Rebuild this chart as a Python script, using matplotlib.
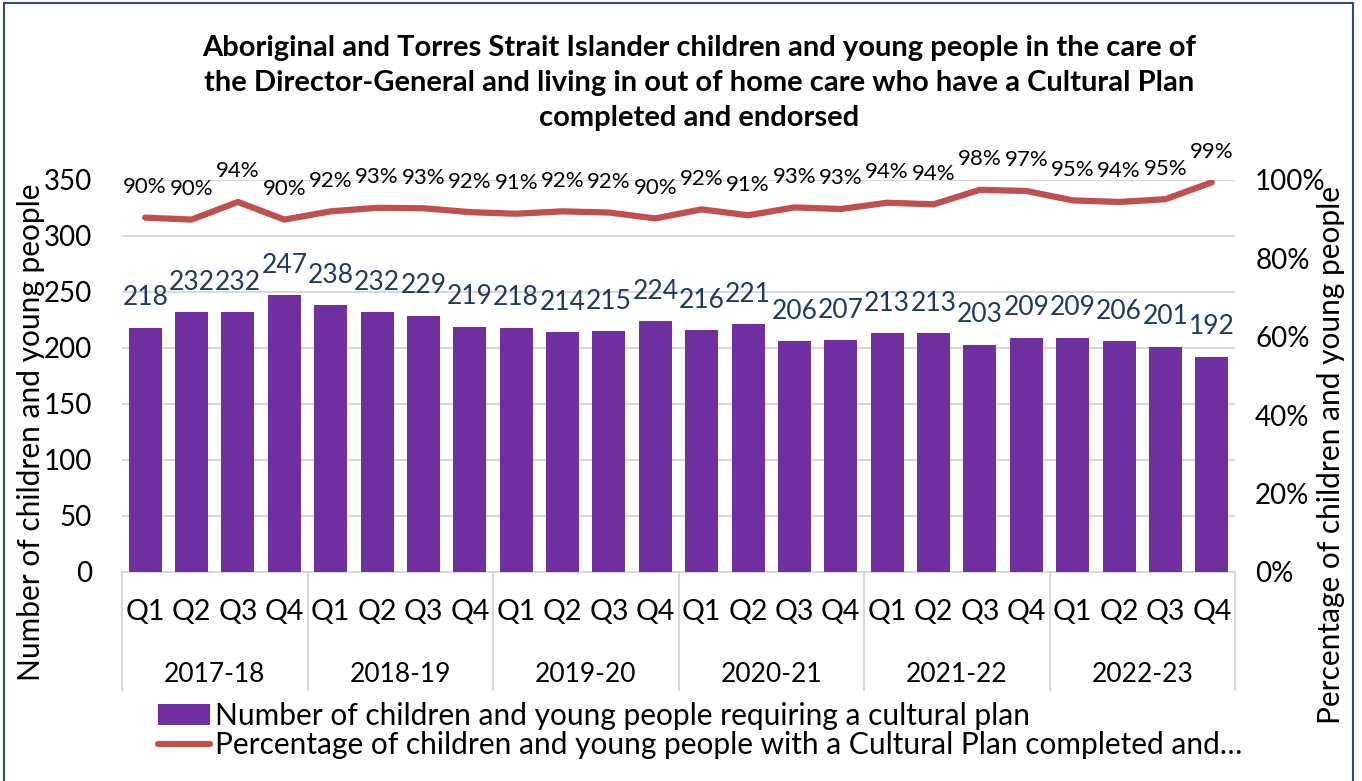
import matplotlib
matplotlib.use("Agg")
import matplotlib.pyplot as plt
from matplotlib.patches import Patch, Rectangle
from matplotlib.lines import Line2D
from matplotlib.transforms import blended_transform_factory

plt.rcParams['font.family'] = ['Lato', 'DejaVu Sans']

years = ["2017-18", "2018-19", "2019-20", "2020-21", "2021-22", "2022-23"]
quarters = ["Q1", "Q2", "Q3", "Q4"]
counts = [218, 232, 232, 247, 238, 232, 229, 219, 218, 214, 215, 224,
          216, 221, 206, 207, 213, 213, 203, 209, 209, 206, 201, 192]
pct = [0.904, 0.899, 0.944, 0.899, 0.920, 0.929, 0.928, 0.918, 0.914, 0.920, 0.917, 0.902,
       0.925, 0.910, 0.930, 0.926, 0.942, 0.938, 0.975, 0.972, 0.948, 0.944, 0.951, 0.994]
bar_label = "Number of children and young people requiring a cultural plan"
line_label = "Percentage of children and young people with a Cultural Plan completed and…"
title = ("Aboriginal and Torres Strait Islander children and young people in the care of\n"
         "the Director-General and living in out of home care who have a Cultural Plan\n"
         "completed and endorsed")

W, H = 1362, 781
fig = plt.figure(figsize=(W / 100, H / 100), dpi=100)
ax = fig.add_axes([122 / W, 1 - 572 / H, (1235 - 122) / W, (572 - 180) / H])
ax2 = ax.twinx()

n = len(counts)
x = list(range(n))
bar_color = "#7030A0"
line_color = "#C0504D"
label_blue = "#1F3864"

ax.bar(x, counts, width=0.71, color=bar_color, zorder=3)
ax.set_xlim(-0.5, n - 0.5)
ax.set_ylim(0, 350)
ax.set_yticks(range(0, 351, 50))
ax.tick_params(axis='y', length=0, labelsize=20, pad=21.5)
ax.grid(axis='y', color='#D9D9D9', linewidth=1.5, zorder=0)
ax.set_xticks([])
for s in ['top', 'right', 'left']:
    ax.spines[s].set_visible(False)
ax.spines['bottom'].set_color('#D9D9D9')
ax.spines['bottom'].set_linewidth(1.5)

for xi, c in zip(x, counts):
    ax.annotate(str(c), (xi, c), xytext=(0, 21.6), textcoords='offset points',
                ha='center', va='center', fontsize=19, color=label_blue, zorder=5)

ax2.plot(x, pct, color=line_color, linewidth=4.5, solid_capstyle='round', zorder=4)
ax2.set_ylim(0, 1.0)
ax2.set_yticks([0, 0.2, 0.4, 0.6, 0.8, 1.0])
ax2.set_yticklabels([f"{int(v*100)}%" for v in [0, 0.2, 0.4, 0.6, 0.8, 1.0]])
ax2.tick_params(axis='y', length=0, labelsize=20, pad=14.5)
for s in ['top', 'right', 'left', 'bottom']:
    ax2.spines[s].set_visible(False)
for xi, p in zip(x, pct):
    ax2.annotate(f"{p:.0%}", (xi, p), xytext=(0, 22), textcoords='offset points',
                 ha='center', va='center', fontsize=16, color='black', zorder=5)

# multi-level category axis
tr = blended_transform_factory(ax.transData, ax.transAxes)
axh = 392.0
for xi in x:
    ax.text(xi, -(612 - 572) / axh, quarters[xi % 4], transform=tr,
            ha='center', va='center', fontsize=20.5, clip_on=False)
for i, yr in enumerate(years):
    ax.text(i * 4 + 1.5, -(674 - 572) / axh, yr, transform=tr,
            ha='center', va='center', fontsize=19, clip_on=False)
for i in range(len(years) + 1):
    ax.add_line(Line2D([i * 4 - 0.5, i * 4 - 0.5], [0, -(690 - 572) / axh], transform=tr,
                       color='#D9D9D9', linewidth=1.5, clip_on=False))

fig.text(31 / W, 1 - 432 / H, "Number of children and young people", rotation=90,
         ha='center', va='center', fontsize=21.5)
fig.text(1331 / W, 1 - 455 / H, "Percentage of children and young people", rotation=90,
         ha='center', va='center', fontsize=21.5)

fig.text(699 / W, 1 - 83 / H, title, ha='center', va='center', fontsize=21,
         fontweight='bold', linespacing=1.45)

handles = [Patch(facecolor=bar_color, edgecolor='none'),
           Line2D([0], [0], color=line_color, linewidth=4.5, solid_capstyle='round')]
fig.legend(handles, [bar_label, line_label], loc='upper left',
           bbox_to_anchor=(158 / W, 1 - 702 / H), frameon=False, fontsize=21.5,
           handlelength=1.75, handletextpad=0.17, labelspacing=0.05, borderaxespad=0,
           borderpad=0)

fig.add_artist(Rectangle((4 / W, -0.01), (1353 - 4) / W, 1 - 3 / H + 0.01,
                         transform=fig.transFigure, fill=False,
                         edgecolor='#2F4B7C', linewidth=1.5))

fig.savefig("out.png", dpi=100)
